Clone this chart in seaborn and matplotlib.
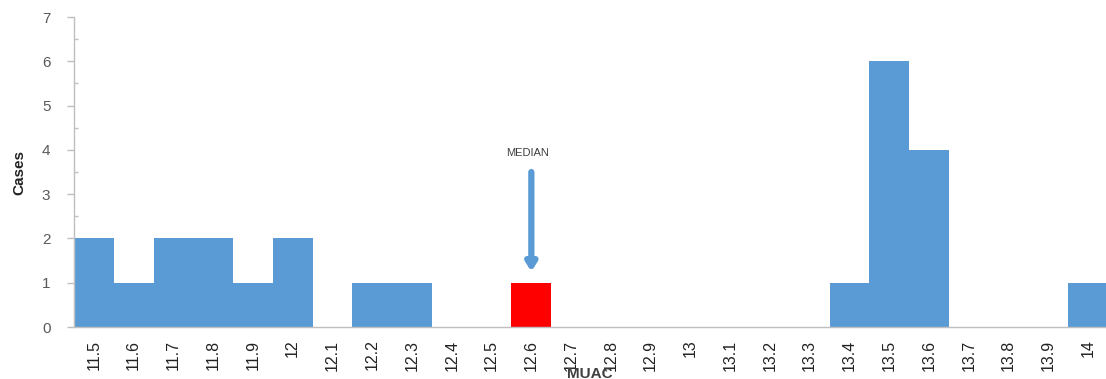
import matplotlib
matplotlib.use("Agg")
import matplotlib.pyplot as plt
import seaborn as sns
import pandas as pd

# MUAC classes (cm) and number of cases in each
muac = ["11.5", "11.6", "11.7", "11.8", "11.9", "12", "12.1", "12.2", "12.3",
        "12.4", "12.5", "12.6", "12.7", "12.8", "12.9", "13", "13.1", "13.2",
        "13.3", "13.4", "13.5", "13.6", "13.7", "13.8", "13.9", "14"]
cases = [2, 1, 2, 2, 1, 2, 0, 1, 1, 0, 0, 1, 0, 0, 0, 0, 0, 0, 0, 1, 6, 4,
         0, 0, 0, 1]
median_class = "12.6"

BLUE = "#5B9BD5"
RED = "#FF0000"
GREY = "#595959"

sns.set_theme(style="white")
plt.rcParams["font.family"] = ["Liberation Sans Narrow", "Liberation Sans",
                               "DejaVu Sans"]

df = pd.DataFrame({"MUAC": muac, "Cases": cases})
palette = {m: (RED if m == median_class else BLUE) for m in muac}

fig = plt.figure(figsize=(11.06, 3.79), dpi=100)
ax = fig.add_axes([0.0669, 0.1372, 0.9331, 0.8178])

sns.barplot(data=df, x="MUAC", y="Cases", hue="MUAC", palette=palette,
            order=muac, hue_order=muac, width=1.0, legend=False,
            saturation=1, linewidth=0, ax=ax)

ax.set_ylim(0, 7)
ax.set_xlim(-0.5, 25.45)
ax.set_yticks(range(0, 8))
ax.set_yticks([i + 0.5 for i in range(7)], minor=True)

for side in ("top", "right"):
    ax.spines[side].set_visible(False)
for side in ("left", "bottom"):
    ax.spines[side].set_color("#BFBFBF")
    ax.spines[side].set_linewidth(1.0)

ax.tick_params(axis="y", which="major", direction="out", length=5, width=1,
               color="#BFBFBF", left=True, labelsize=11, labelcolor=GREY,
               pad=12)
ax.tick_params(axis="y", which="minor", direction="in", length=3, width=1,
               color="#BFBFBF", left=True)
ax.tick_params(axis="x", which="major", bottom=False, labelsize=11.5,
               labelcolor="#222222", pad=3)

for lbl in ax.get_xticklabels():
    lbl.set_rotation(90)

ax.set_xlabel("MUAC", fontsize=11, fontweight="bold", color="#404040")
ax.xaxis.set_label_coords(0.5, -0.128)
ax.set_ylabel("Cases", fontsize=11, fontweight="bold", color="#222222",
              labelpad=11)

# Arrow pointing at the median class
mx = muac.index(median_class)
ax.annotate("", xy=(mx, 1.25), xytext=(mx, 3.5),
            arrowprops=dict(arrowstyle="-|>,head_length=0.4,head_width=0.25",
                            color=BLUE, lw=4.5, shrinkA=0, shrinkB=0))
ax.text(mx - 0.1, 3.93, "MEDIAN", ha="center", va="center", fontsize=8,
        color="#404040")

fig.savefig("out.png", dpi=100)
